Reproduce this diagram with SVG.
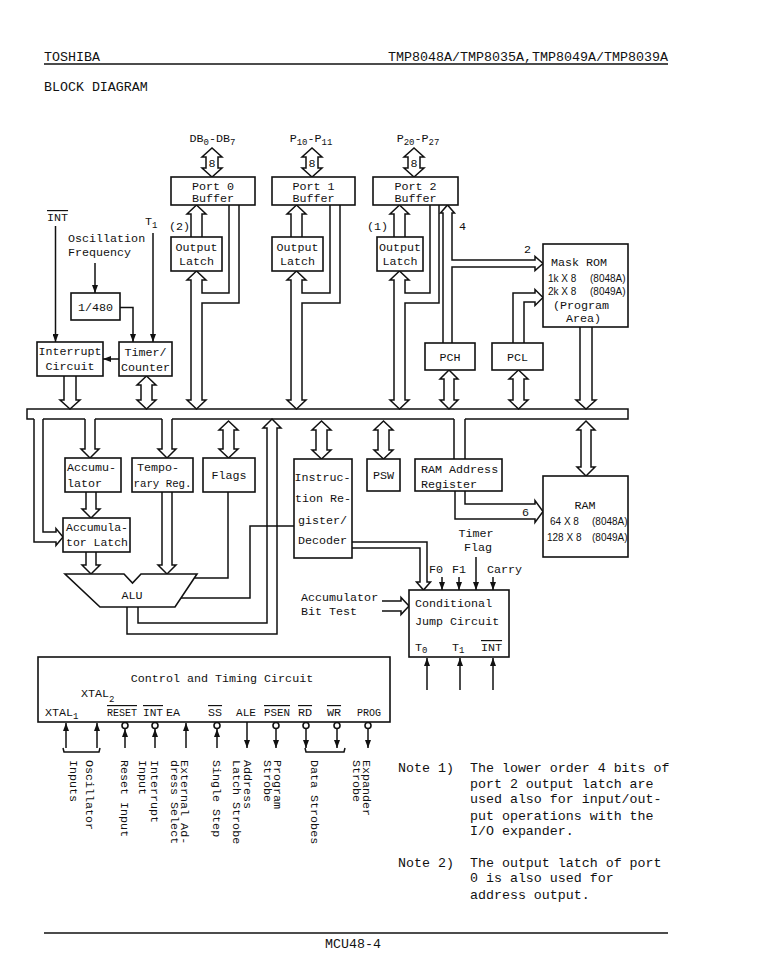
<svg xmlns="http://www.w3.org/2000/svg" width="758" height="973" viewBox="0 0 758 973">
<defs>
<style>
.t{font-family:"Liberation Mono","DejaVu Sans Mono",monospace;font-size:11.7px;fill:#111}
.h{font-family:"Liberation Mono","DejaVu Sans Mono",monospace;font-size:13.3px;fill:#111}
.s{font-family:"Liberation Sans","DejaVu Sans",sans-serif;font-size:10px;fill:#111}
.m{text-anchor:middle}
.bx{fill:#fff;stroke:#111;stroke-width:1.6}
.ln{fill:none;stroke:#111;stroke-width:1.5;stroke-linejoin:miter}
.ol{text-decoration:overline}
.sub{font-size:9px}
</style>
<marker id="ar" viewBox="0 0 8 6" refX="8" refY="3" markerWidth="8" markerHeight="6" orient="auto" markerUnits="userSpaceOnUse"><path d="M0,0 L8,3 L0,6 z" fill="#111"/></marker>
</defs>
<rect width="758" height="973" fill="#fff"/>

<g id="header">
<text class="h" x="44" y="61">TOSHIBA</text>
<text class="h" x="388" y="61" textLength="280" lengthAdjust="spacingAndGlyphs">TMP8048A/TMP8035A,TMP8049A/TMP8039A</text>
<line class="ln" x1="44" y1="64" x2="668" y2="64"/>
<text class="h" x="44" y="91">BLOCK DIAGRAM</text>
</g>

<g id="external-labels">
<text class="t m" x="212.5" y="142">DB<tspan class="sub" dy="3">0</tspan><tspan dy="-3">-DB</tspan><tspan class="sub" dy="3">7</tspan></text>
<text class="t m" x="311" y="142">P<tspan class="sub" dy="3">10</tspan><tspan dy="-3">-P</tspan><tspan class="sub" dy="3">11</tspan></text>
<text class="t m" x="418" y="142">P<tspan class="sub" dy="3">20</tspan><tspan dy="-3">-P</tspan><tspan class="sub" dy="3">27</tspan></text>
<text class="t m" x="212" y="167">8</text>
<text class="t m" x="312" y="167">8</text>
<text class="t m" x="414" y="167">8</text>
<text class="t" x="47" y="221"><tspan class="ol">INT</tspan></text>
<text class="t" x="145" y="225">T<tspan class="sub" dy="3">1</tspan></text>
<text class="t" x="169" y="230">(2)</text>
<text class="t" x="367" y="230">(1)</text>
<text class="t" x="459" y="230">4</text>
<text class="t" x="524" y="253">2</text>
<text class="t" x="68" y="242">Oscillation</text>
<text class="t" x="68" y="256">Frequency</text>
<text class="t" x="522" y="516">6</text>
<text class="t m" x="476" y="537">Timer</text>
<text class="t m" x="478" y="550.5">Flag</text>
<text class="t" x="429" y="573">F0</text>
<text class="t" x="452" y="573">F1</text>
<text class="t" x="487" y="573">Carry</text>
<text class="t" x="301" y="601">Accumulator</text>
<text class="t" x="301" y="615">Bit Test</text>
</g>

<g id="connectors">
<path class="ln" d="M206,157 L202,157 L212,148 L222,157 L218,157 L218,168 L222,168 L212,177 L202,168 L206,168 Z"/>
<path class="ln" d="M306,157 L302,157 L312,148 L322,157 L318,157 L318,168 L322,168 L312,177 L302,168 L306,168 Z"/>
<path class="ln" d="M408,157 L404,157 L414,148 L424,157 L420,157 L420,168 L424,168 L414,177 L404,168 L408,168 Z"/>
<path class="ln" d="M191,237 L191,214 L187,214 L196.5,205 L206,214 L202,214 L202,237"/>
<path class="ln" d="M291,237 L291,214 L287,214 L296.5,205 L306,214 L302,214 L302,237"/>
<path class="ln" d="M394,237 L394,214 L390,214 L399.5,205 L409,214 L405,214 L405,237"/>
<path class="ln" d="M229,205 L229,293 L202,293 L202,280 L206,280 L196.5,271 L187,280 L191,280 L191,400 L187,400 L196.5,409 L206,400 L202,400 L202,303 L239,303 L239,205"/>
<path class="ln" d="M330,205 L330,293 L302,293 L302,280 L306,280 L296.5,271 L287,280 L291,280 L291,400 L287,400 L296.5,409 L306,400 L302,400 L302,303 L340,303 L340,205"/>
<path class="ln" d="M430,205 L430,293 L405,293 L405,280 L409,280 L399.5,271 L390,280 L394,280 L394,400 L390,400 L399.5,409 L409,400 L405,400 L405,303 L439,303 L439,205"/>
<path class="ln" d="M443,343 L443,213 L440.5,213 L447.5,205 L454.5,213 L452,213 L452,260 L535,260 L535,256.5 L543,263.5 L535,270.5 L535,267 L452,267 L452,343"/>
<path class="ln" d="M513,343 L513,293 L535,293 L535,289.5 L543,297.5 L535,305.5 L535,302 L524,302 L524,343"/>
<path class="ln" d="M580,327 L580,400 L576,400 L586,409 L596,400 L592,400 L592,327"/>
<path class="ln" d="M444,379 L440,379 L449,370 L458,379 L454,379 L454,400 L458,400 L449,409 L440,400 L444,400 Z"/>
<path class="ln" d="M513,379 L509,379 L518.5,370 L528,379 L524,379 L524,400 L528,400 L518.5,409 L509,400 L513,400 Z"/>
<path class="ln" d="M64,376 L64,400 L60,400 L70,409 L80,400 L76,400 L76,376"/>
<path class="ln" d="M141,385 L137,385 L146.5,376 L156,385 L152,385 L152,400 L156,400 L146.5,409 L137,400 L141,400 Z"/>
<line class="ln" x1="55.5" y1="226" x2="55.5" y2="342" marker-end="url(#ar)"/>
<line class="ln" x1="153" y1="233" x2="153" y2="342" marker-end="url(#ar)"/>
<line class="ln" x1="95" y1="263" x2="95" y2="293" marker-end="url(#ar)"/>
<path class="ln" d="M120,307.5 L133,307.5 L133,342" marker-end="url(#ar)"/>
<line class="ln" x1="119" y1="359" x2="103" y2="359" marker-end="url(#ar)"/>
<!-- internal bus -->
<path class="ln" d="M34,419 L27,419 L27,409 L628,409 L628,419 L465,419 M454,419 L172,419 M162,419 L95,419 M85,419 L43,419"/>
<path class="ln" d="M34,419 L34,542 L56,542 L56,545.5 L63,537 L56,528.5 L56,532 L43,532 L43,419"/>
<path class="ln" d="M85,419 L85,449 L81,449 L90,458 L99,449 L95,449 L95,419"/>
<path class="ln" d="M162,419 L162,449 L158,449 L167,458 L176,449 L172,449 L172,419"/>
<path class="ln" d="M454,419 L454,459 M465,419 L465,459"/>
<path class="ln" d="M223,430 L219,430 L228.5,421 L238,430 L234,430 L234,449 L238,449 L228.5,458 L219,449 L223,449 Z"/>
<path class="ln" d="M316,430 L312,430 L321.5,421 L331,430 L327,430 L327,450 L331,450 L321.5,459 L312,450 L316,450 Z"/>
<path class="ln" d="M378,430 L374,430 L383.5,421 L393,430 L389,430 L389,450 L393,450 L383.5,459 L374,450 L378,450 Z"/>
<path class="ln" d="M581,430 L577,430 L586,421 L595,430 L591,430 L591,467 L595,467 L586,476 L577,467 L581,467 Z"/>
<path class="ln" d="M138,607 L138,623 L267,623 L267,428 L263,428 L272,419 L281,428 L277,428 L277,634 L127,634 L127,607"/>
<path class="ln" d="M86,492 L86,509 L82,509 L91,518 L100,509 L96,509 L96,492"/>
<path class="ln" d="M86,552 L86,565 L82,565 L91,574 L100,565 L96,565 L96,552"/>
<path class="ln" d="M162,492 L162,565 L158,565 L167,574 L176,565 L172,565 L172,492"/>
<path class="ln" d="M228,492 L228,578 L194.3,578"/>
<path class="ln" d="M294,526 L250,526 L250,598 L181,598"/>
<path class="ln" d="M455,491 L455,519 L535,519 L535,522.5 L543,511.5 L535,500.5 L535,504 L465,504 L465,491"/>
<path class="ln" d="M352,542 L427,542 L427,582 L430.5,582 L423.5,590 L416.5,582 L420,582 L420,548 L352,548"/>
<path class="ln" d="M382,601 L401,601 L401,597.5 L409,606 L401,614.5 L401,611 L382,611"/>
<line class="ln" x1="442" y1="577" x2="442" y2="590" marker-end="url(#ar)"/>
<line class="ln" x1="459" y1="577" x2="459" y2="590" marker-end="url(#ar)"/>
<line class="ln" x1="476" y1="557" x2="476" y2="590" marker-end="url(#ar)"/>
<line class="ln" x1="493" y1="577" x2="493" y2="590" marker-end="url(#ar)"/>
<line class="ln" x1="427" y1="690" x2="427" y2="658" marker-end="url(#ar)"/>
<line class="ln" x1="460" y1="690" x2="460" y2="658" marker-end="url(#ar)"/>
<line class="ln" x1="493" y1="690" x2="493" y2="658" marker-end="url(#ar)"/>
<!-- control pins -->
<line class="ln" x1="66" y1="748" x2="66" y2="723" marker-end="url(#ar)"/>
<line class="ln" x1="97" y1="748" x2="97" y2="723" marker-end="url(#ar)"/>
<circle class="bx" cx="125" cy="725.5" r="3"/>
<line class="ln" x1="125" y1="748" x2="125" y2="729" marker-end="url(#ar)"/>
<circle class="bx" cx="155" cy="725.5" r="3"/>
<line class="ln" x1="155" y1="748" x2="155" y2="729" marker-end="url(#ar)"/>
<line class="ln" x1="186" y1="748" x2="186" y2="723" marker-end="url(#ar)"/>
<circle class="bx" cx="217" cy="725.5" r="3"/>
<line class="ln" x1="217" y1="748" x2="217" y2="729" marker-end="url(#ar)"/>
<line class="ln" x1="247" y1="722" x2="247" y2="748" marker-end="url(#ar)"/>
<circle class="bx" cx="276" cy="725.5" r="3"/>
<line class="ln" x1="276" y1="729" x2="276" y2="748" marker-end="url(#ar)"/>
<circle class="bx" cx="306" cy="725.5" r="3"/>
<line class="ln" x1="306" y1="729" x2="306" y2="748" marker-end="url(#ar)"/>
<circle class="bx" cx="337" cy="725.5" r="3"/>
<line class="ln" x1="337" y1="729" x2="337" y2="748" marker-end="url(#ar)"/>
<circle class="bx" cx="368" cy="725.5" r="3"/>
<line class="ln" x1="368" y1="729" x2="368" y2="748" marker-end="url(#ar)"/>
<path class="ln" d="M63,748 L64,752 L99,752 L100,748"/>
<path class="ln" d="M305,748 L306,752 L344,752 L345,748"/>
</g>

<g id="port0-buffer"><rect class="bx" x="171" y="177" width="84" height="28"/><text class="t m" x="213" y="189.5">Port 0</text><text class="t m" x="213" y="202">Buffer</text></g>
<g id="port1-buffer"><rect class="bx" x="272" y="177" width="83" height="28"/><text class="t m" x="313.5" y="189.5">Port 1</text><text class="t m" x="313.5" y="202">Buffer</text></g>
<g id="port2-buffer"><rect class="bx" x="373" y="177" width="85" height="28"/><text class="t m" x="415.5" y="189.5">Port 2</text><text class="t m" x="415.5" y="202">Buffer</text></g>
<g id="port0-latch"><rect class="bx" x="171" y="237" width="51" height="34"/><text class="t m" x="196.5" y="251">Output</text><text class="t m" x="196.5" y="265">Latch</text></g>
<g id="port1-latch"><rect class="bx" x="272" y="237" width="51" height="34"/><text class="t m" x="297.5" y="251">Output</text><text class="t m" x="297.5" y="265">Latch</text></g>
<g id="port2-latch"><rect class="bx" x="377" y="237" width="46" height="34"/><text class="t m" x="400" y="251">Output</text><text class="t m" x="400" y="265">Latch</text></g>
<g id="div480"><rect class="bx" x="71" y="293" width="49" height="27"/><text class="t m" x="95.5" y="311">1/480</text></g>
<g id="interrupt"><rect class="bx" x="37" y="342" width="66" height="34"/><text class="t m" x="70" y="355">Interrupt</text><text class="t m" x="70" y="370">Circuit</text></g>
<g id="timer"><rect class="bx" x="119" y="342" width="53" height="34"/><text class="t m" x="145.5" y="356">Timer/</text><text class="t m" x="145.5" y="371">Counter</text></g>
<g id="mask-rom"><rect class="bx" x="543" y="244" width="85" height="83"/>
<text class="t" x="551" y="266">Mask ROM</text>
<text class="s" x="548" y="282">1k X 8</text><text class="s" x="590" y="282">(8048A)</text>
<text class="s" x="548" y="295">2k X 8</text><text class="s" x="590" y="295">(8049A)</text>
<text class="t" x="553" y="309">(Program</text>
<text class="t" x="566" y="322">Area)</text></g>
<g id="pch"><rect class="bx" x="425" y="343" width="50" height="27"/><text class="t m" x="450" y="361">PCH</text></g>
<g id="pcl"><rect class="bx" x="492" y="343" width="51" height="27"/><text class="t m" x="517.5" y="361">PCL</text></g>
<g id="accumulator"><rect class="bx" x="65" y="458" width="56" height="34"/><text class="t" x="67" y="471">Accumu-</text><text class="t" x="67" y="487">lator</text></g>
<g id="temp-reg"><rect class="bx" x="132" y="458" width="61" height="34"/><text class="t" x="137" y="471">Tempo-</text><text class="t" x="133.5" y="487" textLength="58" lengthAdjust="spacingAndGlyphs">rary Reg.</text></g>
<g id="flags"><rect class="bx" x="203" y="458" width="52" height="34"/><text class="t m" x="229" y="479">Flags</text></g>
<g id="acc-latch"><rect class="bx" x="63" y="518" width="67" height="34"/><text class="t" x="66" y="531" textLength="62" lengthAdjust="spacingAndGlyphs">Accumula-</text><text class="t" x="66" y="546" textLength="62" lengthAdjust="spacingAndGlyphs">tor Latch</text></g>
<g id="alu"><polygon class="bx" points="65,574 124,574 132.5,583 141,574 197,574 175,607 100,607"/><text class="t m" x="132" y="599">ALU</text></g>
<g id="instr-reg"><rect class="bx" x="294" y="459" width="58" height="99"/><text class="t" x="294.5" y="481">Instruc-</text><text class="t" x="295" y="502">tion Re-</text><text class="t" x="298" y="524">gister/</text><text class="t" x="298" y="544">Decoder</text></g>
<g id="psw"><rect class="bx" x="367" y="459" width="33" height="32"/><text class="t m" x="383.5" y="479">PSW</text></g>
<g id="ram-addr"><rect class="bx" x="415" y="459" width="87" height="32"/><text class="t" x="421" y="473">RAM Address</text><text class="t" x="421" y="488">Register</text></g>
<g id="ram"><rect class="bx" x="543" y="476" width="85" height="81"/>
<text class="t m" x="585" y="509">RAM</text>
<text class="s" x="550" y="525">64 X 8</text><text class="s" x="592" y="525">(8048A)</text>
<text class="s" x="547" y="541">128 X 8</text><text class="s" x="592" y="541">(8049A)</text></g>
<g id="cond-jump"><rect class="bx" x="409" y="590" width="100" height="67"/>
<text class="t" x="415" y="607">Conditional</text>
<text class="t" x="415" y="625">Jump Circuit</text>
<text class="t" x="415" y="651">T<tspan class="sub" dy="2">0</tspan></text>
<text class="t" x="452" y="651">T<tspan class="sub" dy="2">1</tspan></text>
<text class="t" x="481" y="651"><tspan class="ol">INT</tspan></text></g>
<g id="control-timing"><rect class="bx" x="38" y="657" width="352" height="65"/>
<text class="t m" x="222" y="682">Control and Timing Circuit</text>
<text class="t" x="81" y="697">XTAL<tspan class="sub" dy="5">2</tspan></text>
<text class="t" x="45" y="716">XTAL<tspan class="sub" dy="3">1</tspan></text>
<text class="t" x="107" y="716" textLength="30" lengthAdjust="spacingAndGlyphs"><tspan class="ol">RESET</tspan></text>
<text class="t" x="143" y="716" textLength="20" lengthAdjust="spacingAndGlyphs"><tspan class="ol">INT</tspan></text>
<text class="t" x="166" y="716">EA</text>
<text class="t" x="208" y="716"><tspan class="ol">SS</tspan></text>
<text class="t" x="236" y="716" textLength="20" lengthAdjust="spacingAndGlyphs">ALE</text>
<text class="t" x="264" y="716" textLength="26" lengthAdjust="spacingAndGlyphs"><tspan class="ol">PSEN</tspan></text>
<text class="t" x="298" y="716"><tspan class="ol">RD</tspan></text>
<text class="t" x="327" y="716"><tspan class="ol">WR</tspan></text>
<text class="t" x="357" y="716" textLength="24" lengthAdjust="spacingAndGlyphs">PROG</text></g>

<g id="pin-labels" class="t">
<text transform="translate(86,760) rotate(90)">Oscillator</text>
<text transform="translate(69.5,760) rotate(90)">Inputs</text>
<text transform="translate(121,760) rotate(90)">Reset Input</text>
<text transform="translate(151,760) rotate(90)">Interrupt</text>
<text transform="translate(139,760) rotate(90)">Input</text>
<text transform="translate(181,760) rotate(90)">External Ad-</text>
<text transform="translate(171,760) rotate(90)">dress Select</text>
<text transform="translate(213,760) rotate(90)">Single Step</text>
<text transform="translate(244,760) rotate(90)">Address</text>
<text transform="translate(233,760) rotate(90)">Latch Strobe</text>
<text transform="translate(274,760) rotate(90)">Program</text>
<text transform="translate(264,760) rotate(90)">Strobe</text>
<text transform="translate(311,760) rotate(90)">Data Strobes</text>
<text transform="translate(363,760) rotate(90)">Expander</text>
<text transform="translate(353,760) rotate(90)">Strobe</text>
</g>

<g id="notes">
<text class="h" x="398" y="772">Note 1)</text>
<text class="h" x="470" y="772">The lower order 4 bits of</text>
<text class="h" x="470" y="788">port 2 output latch are</text>
<text class="h" x="470" y="803">used also for input/out-</text>
<text class="h" x="470" y="820">put operations with the</text>
<text class="h" x="470" y="835">I/O expander.</text>
<text class="h" x="398" y="867">Note 2)</text>
<text class="h" x="470" y="867">The output latch of port</text>
<text class="h" x="470" y="882">0 is also used for</text>
<text class="h" x="470" y="899">address output.</text>
</g>

<g id="footer">
<line class="ln" x1="44" y1="933" x2="668" y2="933"/>
<text class="h" x="325" y="948">MCU48-4</text>
</g>
</svg>
